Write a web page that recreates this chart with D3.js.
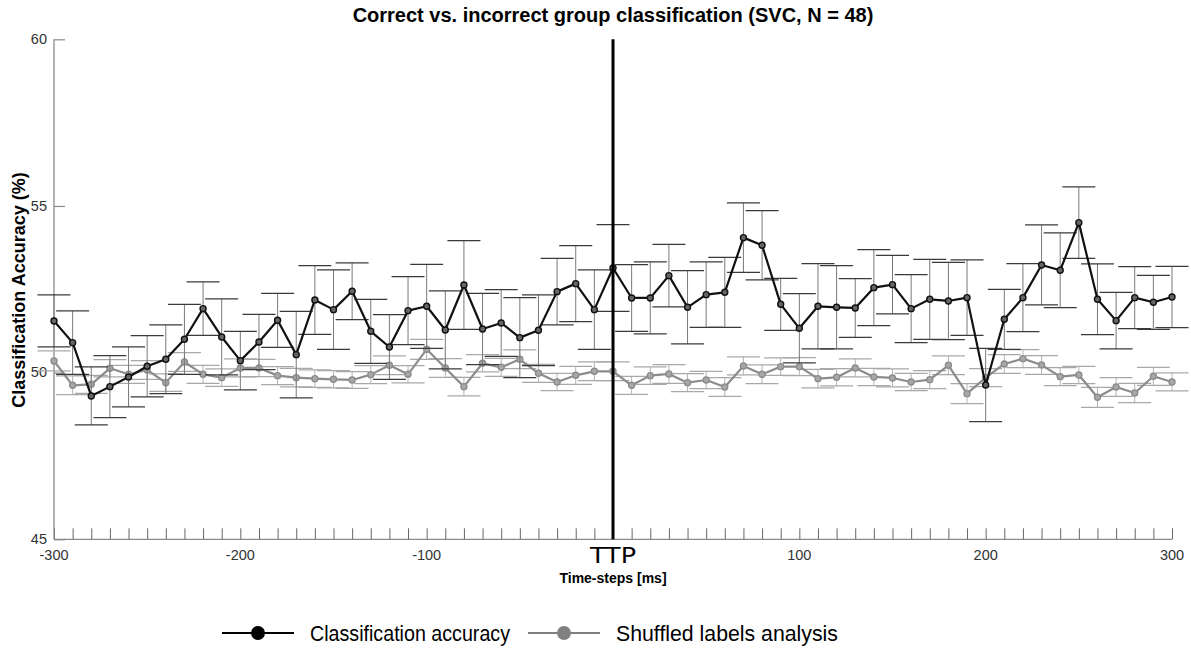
<!DOCTYPE html>
<html>
<head>
<meta charset="utf-8">
<script src="https://cdn.jsdelivr.net/npm/d3@7"></script>
<style>
  html, body { margin: 0; padding: 0; background: #fff; }
  svg { display: block; }
</style>
</head>
<body>
<svg id="chart" width="1191" height="652"></svg>
<script>
// Time steps around TTP (ms)
const timeSteps = d3.range(-300, 301, 10);

// Mean classification accuracy (%) and its error
const accuracy = [
  51.55, 50.90, 49.30, 49.58, 49.87, 50.19, 50.40, 51.00, 51.92, 51.07,
  50.36, 50.92, 51.57, 50.54, 52.18, 51.89, 52.44, 51.24, 50.77, 51.86,
  51.99, 51.28, 52.63, 51.31, 51.49, 51.05, 51.27, 52.43, 52.67, 51.89,
  53.14, 52.24, 52.24, 52.91, 51.96, 52.34, 52.41, 54.05, 53.82, 52.05,
  51.33, 51.99, 51.96, 51.94, 52.55, 52.64, 51.92, 52.20, 52.15, 52.25,
  49.63, 51.60, 52.25, 53.23, 53.07, 54.50, 52.20, 51.56, 52.25, 52.11,
  52.27
];
const accuracyErr = [
  0.78, 0.95, 0.87, 0.93, 0.90, 0.92, 1.03, 1.05, 0.80, 1.14,
  0.88, 0.83, 0.81, 1.30, 1.03, 1.19, 0.85, 0.96, 0.97, 1.02,
  1.26, 1.17, 1.33, 1.07, 1.00, 1.20, 1.06, 1.00, 1.14, 1.19,
  1.30, 1.00, 1.08, 0.94, 1.10, 0.98, 1.05, 1.04, 1.04, 0.78,
  1.04, 1.28, 1.25, 0.88, 1.14, 0.88, 1.02, 1.20, 1.16, 1.13,
  1.10, 0.90, 1.02, 1.20, 1.12, 1.07, 1.06, 0.85, 0.93, 0.81,
  0.92
];

// Shuffled-labels control analysis (%) and its error
const shuffled = [
  50.35, 49.62, 49.65, 50.13, 49.95, 50.08, 49.70, 50.32, 49.95, 49.85,
  50.14, 50.14, 49.91, 49.85, 49.82, 49.80, 49.78, 49.94, 50.22, 49.95,
  50.70, 50.14, 49.58, 50.28, 50.16, 50.40, 49.98, 49.72, 49.92, 50.04,
  50.04, 49.62, 49.91, 49.96, 49.70, 49.78, 49.57, 50.20, 49.95, 50.18,
  50.18, 49.82, 49.86, 50.14, 49.87, 49.84, 49.72, 49.79, 50.22, 49.37,
  49.85, 50.26, 50.42, 50.23, 49.88, 49.93, 49.26, 49.57, 49.39, 49.89,
  49.72
];
const shuffledErr = [
  0.30, 0.28, 0.27, 0.26, 0.27, 0.28, 0.26, 0.28, 0.27, 0.26,
  0.27, 0.26, 0.27, 0.28, 0.26, 0.26, 0.25, 0.27, 0.28, 0.26,
  0.30, 0.28, 0.28, 0.26, 0.27, 0.28, 0.27, 0.26, 0.27, 0.28,
  0.28, 0.27, 0.26, 0.28, 0.27, 0.26, 0.28, 0.27, 0.28, 0.26,
  0.27, 0.28, 0.26, 0.27, 0.26, 0.27, 0.26, 0.27, 0.28, 0.30,
  0.27, 0.28, 0.27, 0.28, 0.27, 0.26, 0.30, 0.28, 0.29, 0.27,
  0.27
];

// Axis ticks and labels
const xLabelTicks = [-300, -200, -100, 100, 200, 300];
const yTicks = [45, 50, 55, 60];
const titleText = "Correct vs. incorrect group classification (SVC, N = 48)";
const xTitle = "Time-steps [ms]";
const yTitle = "Classification Accuracy (%)";
const eventLabel = "TTP";
const legendLabels = ["Classification accuracy", "Shuffled labels analysis"];

// ---- layout ----
const svg = d3.select("#chart");
const plotLeft = 54, plotRight = 1172, plotTop = 39.3, plotBottom = 539.3;
const capHalf = 16.5;
const font = "'Liberation Sans', Arial, sans-serif";

const x = d3.scaleLinear().domain([-300, 300]).range([plotLeft, plotRight]);
const y = d3.scaleLinear().domain([45, 60]).range([plotBottom, plotTop]);

const axisColor = "#8a8a8a";

// x axis: line with small inward ticks every 10 ms
const xAxis = svg.append("g").attr("transform", `translate(0,${plotBottom})`)
  .call(d3.axisBottom(x).tickValues(timeSteps).tickSize(-11).tickFormat(""));
xAxis.select(".domain").attr("stroke", axisColor).attr("stroke-width", 1.3)
  .attr("d", `M${plotLeft},0H${plotRight}`);
xAxis.selectAll(".tick line").attr("stroke", "#666").attr("stroke-width", 1);

xAxis.selectAll(".tlabel").data(xLabelTicks).enter().append("text")
  .attr("class", "tlabel")
  .attr("x", d => x(d)).attr("y", 21)
  .attr("text-anchor", "middle")
  .attr("font-family", font).attr("font-size", 14.5).attr("fill", "#333")
  .text(d => d);

// y axis
const yAxis = svg.append("g").attr("transform", `translate(${plotLeft},0)`)
  .call(d3.axisLeft(y).tickValues(yTicks).tickSize(-11));
yAxis.select(".domain").attr("stroke", axisColor).attr("stroke-width", 1.3)
  .attr("d", `M0,${plotBottom}V${plotTop}`);
yAxis.selectAll(".tick line").attr("stroke", axisColor).attr("stroke-width", 1.2);
yAxis.selectAll(".tick text")
  .attr("font-family", font).attr("font-size", 14.5).attr("fill", "#333")
  .attr("x", -7).attr("dy", "0.3em");

// ---- series drawing ----
function drawSeries(values, errs, opts) {
  const g = svg.append("g");
  const pts = timeSteps.map((t, i) => ({ t, v: values[i], e: errs[i] }));

  const bars = g.append("g");
  bars.selectAll("line.stem").data(pts).enter().append("line")
    .attr("class", "stem")
    .attr("x1", d => x(d.t)).attr("x2", d => x(d.t))
    .attr("y1", d => y(d.v - d.e)).attr("y2", d => y(d.v + d.e))
    .attr("stroke", opts.stem).attr("stroke-width", 1);
  ["lo", "hi"].forEach(side => {
    bars.selectAll("line.cap-" + side).data(pts).enter().append("line")
      .attr("class", "cap-" + side)
      .attr("x1", d => x(d.t) - capHalf).attr("x2", d => x(d.t) + capHalf)
      .attr("y1", d => y(side === "lo" ? d.v - d.e : d.v + d.e))
      .attr("y2", d => y(side === "lo" ? d.v - d.e : d.v + d.e))
      .attr("stroke", opts.cap).attr("stroke-width", 1.2);
  });

  const line = d3.line().x(d => x(d.t)).y(d => y(d.v));
  g.append("path").datum(pts).attr("d", line)
    .attr("fill", "none").attr("stroke", opts.line).attr("stroke-width", 2.2)
    .attr("stroke-linejoin", "round");

  g.selectAll("circle").data(pts).enter().append("circle")
    .attr("cx", d => x(d.t)).attr("cy", d => y(d.v)).attr("r", 3)
    .attr("fill", opts.fill).attr("stroke", opts.line).attr("stroke-width", 1.4);
}

drawSeries(shuffled, shuffledErr, { line: "#8c8c8c", fill: "#a8a8a8", stem: "#b4b4b4", cap: "#a8a8a8" });
drawSeries(accuracy, accuracyErr, { line: "#111", fill: "#666", stem: "#7a7a7a", cap: "#3a3a3a" });

// event marker at TTP
svg.append("line")
  .attr("x1", x(0)).attr("x2", x(0)).attr("y1", plotTop).attr("y2", plotBottom)
  .attr("stroke", "#000").attr("stroke-width", 3);

svg.append("text")
  .attr("x", x(0)).attr("y", plotBottom + 24)
  .attr("text-anchor", "middle")
  .attr("font-family", "'DejaVu Sans', sans-serif").attr("font-size", 22).attr("fill", "#000")
  .attr("textLength", 46).attr("lengthAdjust", "spacingAndGlyphs")
  .text(eventLabel);

// titles
svg.append("text")
  .attr("x", x(0)).attr("y", 22).attr("text-anchor", "middle")
  .attr("font-family", font).attr("font-size", 20).attr("font-weight", "bold")
  .text(titleText);

svg.append("text")
  .attr("x", x(0)).attr("y", plotBottom + 44).attr("text-anchor", "middle")
  .attr("font-family", font).attr("font-size", 14).attr("font-weight", "bold")
  .text(xTitle);

svg.append("text")
  .attr("transform", `translate(25,290) rotate(-90)`)
  .attr("text-anchor", "middle")
  .attr("font-family", font).attr("font-size", 18).attr("font-weight", "bold")
  .text(yTitle);

// legend
const legendY = 633;
const legendItems = [
  { label: legendLabels[0], color: "#000", x0: 222, textLen: 200 },
  { label: legendLabels[1], color: "#808080", x0: 528, textLen: 222 }
];
const lg = svg.append("g");
legendItems.forEach(item => {
  lg.append("line")
    .attr("x1", item.x0).attr("x2", item.x0 + 72)
    .attr("y1", legendY).attr("y2", legendY)
    .attr("stroke", item.color).attr("stroke-width", 2);
  lg.append("circle")
    .attr("cx", item.x0 + 36).attr("cy", legendY).attr("r", 7)
    .attr("fill", item.color);
  lg.append("text")
    .attr("x", item.x0 + 88).attr("y", legendY + 8)
    .attr("font-family", font).attr("font-size", 22).attr("fill", "#000")
    .attr("textLength", item.textLen).attr("lengthAdjust", "spacingAndGlyphs")
    .text(item.label);
});
</script>
</body>
</html>
